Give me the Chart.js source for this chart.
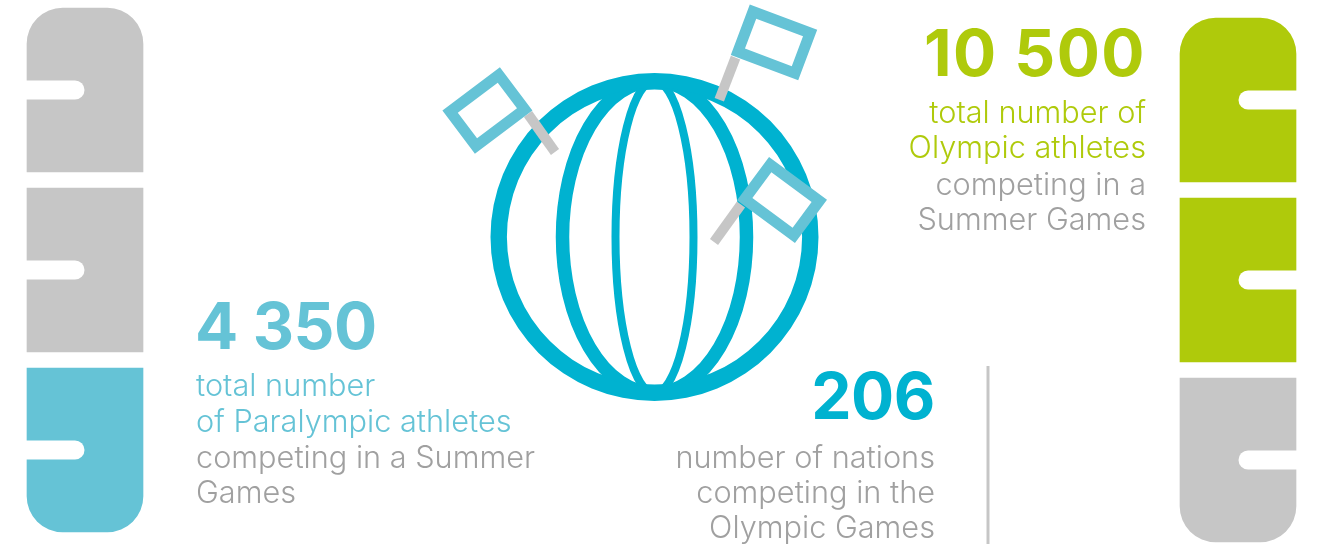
<!DOCTYPE html>
<html>
<head>
<meta charset="utf-8">
<script src="https://cdn.jsdelivr.net/npm/chart.js@4/dist/chart.umd.min.js"></script>
<style>
html, body { margin: 0; padding: 0; background: #fff; }
#page { position: relative; width: 1319px; height: 544px; overflow: hidden; font-family: Inter, sans-serif; }
canvas { position: absolute; }
#paraWrap, #olyWrap, #globeWrap { position: absolute; }
#paraWrap { left: 18.5px; top: 0; width: 132px; height: 540px; }
#olyWrap { left: 1172px; top: 10px; width: 132px; height: 540px; }
#globeWrap { left: 0; top: 0; width: 1319px; height: 544px; }
.big, .txt { position: absolute; white-space: nowrap; }
.big { font-weight: 700; font-size: 64px; line-height: 65px; }
.txt { font-weight: 300; font-size: 30.7px; line-height: 36px; }
.blue { color: #65c3d6; } .cyan { color: #00b2d0; } .green { color: #afca0b; } .grey { color: #a0a0a0; }
</style>
</head>
<body>
<div id="page">
  <div id="globeWrap"><canvas id="globe"></canvas></div>
  <div id="paraWrap"><canvas id="para"></canvas></div>
  <div id="olyWrap"><canvas id="oly"></canvas></div>

  <div class="big green" style="right:173px;top:20px;letter-spacing:1.5px">10 500</div>
  <div class="txt green" style="right:173px;top:94px">total number of</div>
  <div class="txt green" style="right:173px;top:129px">Olympic athletes</div>
  <div class="txt grey" style="right:173px;top:166px">competing in a</div>
  <div class="txt grey" style="right:173px;top:201px">Summer Games</div>

  <div class="big blue" style="left:195px;top:293px;letter-spacing:-0.4px">4 350</div>
  <div class="txt blue" style="left:196px;top:367px">total number</div>
  <div class="txt blue" style="left:196px;top:403px">of Paralympic athletes</div>
  <div class="txt grey" style="left:196px;top:439px">competing in a Summer</div>
  <div class="txt grey" style="left:196px;top:474px">Games</div>

  <div class="big cyan" style="right:384px;top:363px;letter-spacing:-0.4px">206</div>
  <div class="txt grey" style="right:384px;top:439px">number of nations</div>
  <div class="txt grey" style="right:384px;top:474px">competing in the</div>
  <div class="txt grey" style="right:384px;top:509px">Olympic Games</div>
</div>
<script>
// pittogrammi: tre blocchi per colonna, dal basso verso l'alto
const blockLabels = ['total'];
const paralympicBlocks = [1, 1, 1];
const paralympicColors = ['#65c3d6', '#c6c6c6', '#c6c6c6'];
const olympicBlocks = [1, 1, 1];
const olympicColors = ['#c6c6c6', '#afca0b', '#afca0b'];
const nations = [206];

// tacca bianca a meta di ogni blocco
const notchPlugin = {
    id: 'notch',
    afterDatasetsDraw(chart, args, opts) {
        const ctx = chart.ctx;
        chart.data.datasets.forEach((ds, i) => {
            const bar = chart.getDatasetMeta(i).data[0];
            const mid = (bar.y + bar.base) / 2;
            const edge = opts.side === 'left' ? bar.x - bar.width / 2 : bar.x + bar.width / 2;
            ctx.save();
            ctx.strokeStyle = '#fff';
            ctx.lineWidth = 19;
            ctx.lineCap = 'round';
            ctx.beginPath();
            ctx.moveTo(edge, mid);
            ctx.lineTo(bar.x + (opts.side === 'left' ? -10 : 10), mid);
            ctx.stroke();
            ctx.restore();
        });
    }
};

// barre flottanti: lo stack di Chart.js arrotonda solo la cima
function makeColumn(canvasId, blocks, colors, side) {
    let start = 0;
    const datasets = blocks.map((v, i) => {
        const range = [start, start + v];
        start += v;
        const r = i === blocks.length - 1 ? { topLeft: 44, topRight: 44, bottomLeft: 0, bottomRight: 0 }
            : i === 0 ? { topLeft: 0, topRight: 0, bottomLeft: 44, bottomRight: 44 } : 0;
        return {
            label: 'block' + i,
            data: [range],
            backgroundColor: colors[i],
            borderColor: '#fff',
            borderWidth: 8,
            borderSkipped: false,
            borderRadius: r,
            barPercentage: 1,
            categoryPercentage: 1
        };
    });
    new Chart(document.getElementById(canvasId), {
        type: 'bar',
        data: { labels: blockLabels, datasets: datasets },
        plugins: [notchPlugin],
        options: {
            responsive: true,
            maintainAspectRatio: false,
            animation: false,
            events: [],
            layout: { padding: 0 },
            plugins: { legend: { display: false }, tooltip: { enabled: false }, notch: { side: side } },
            scales: {
                x: { stacked: true, display: false },
                y: { display: false, min: 0, max: start }
            }
        }
    });
}

makeColumn('para', paralympicBlocks, paralympicColors, 'left');
makeColumn('oly', olympicBlocks, olympicColors, 'right');

// bandierine: offset dal centro del globo
const flags = [
    { dx: 119.5, dy: -194.6, rot: 20.6, px1: 81, py1: -179.4, px2: 64.8, py2: -137.3 },
    { dx: -167.1, dy: -126.5, rot: -37, px1: -126.5, py1: -123, px2: -99.5, py2: -85 },
    { dx: 127.5, dy: -37, rot: 36.4, px1: 86.5, py1: -32.5, px2: 59.5, py2: 5 }
];

const globePlugin = {
    id: 'globeDetails',
    afterDatasetsDraw(chart) {
        const ctx = chart.ctx;
        const arc = chart.getDatasetMeta(0).data[0];
        const cx = arc.x, cy = arc.y, r = arc.innerRadius + 2;

        // meridiani tagliati sul cerchio
        ctx.save();
        ctx.beginPath();
        ctx.arc(cx, cy, r, 0, Math.PI * 2);
        ctx.clip();
        ctx.strokeStyle = '#00b2d0';
        ctx.lineWidth = 13.5;
        ctx.beginPath();
        ctx.ellipse(cx, cy, 92, 156, 0, 0, Math.PI * 2);
        ctx.stroke();
        ctx.lineWidth = 8;
        ctx.beginPath();
        ctx.ellipse(cx, cy, 39, 156, 0, 0, Math.PI * 2);
        ctx.stroke();
        ctx.restore();

        flags.forEach(f => {
            ctx.save();
            ctx.strokeStyle = '#c6c6c6';
            ctx.lineWidth = 10;
            ctx.beginPath();
            ctx.moveTo(cx + f.px1, cy + f.py1);
            ctx.lineTo(cx + f.px2, cy + f.py2);
            ctx.stroke();
            ctx.translate(cx + f.dx, cy + f.dy);
            ctx.rotate(f.rot * Math.PI / 180);
            ctx.fillStyle = '#fff';
            ctx.strokeStyle = '#65c3d6';
            ctx.lineWidth = 11;
            ctx.beginPath();
            ctx.rect(-30.5, -21.5, 61, 43);
            ctx.fill();
            ctx.stroke();
            ctx.restore();
        });

        // separatore verticale
        ctx.save();
        ctx.strokeStyle = '#c6c6c6';
        ctx.lineWidth = 3;
        ctx.beginPath();
        ctx.moveTo(988, 366);
        ctx.lineTo(988, 544);
        ctx.stroke();
        ctx.restore();
    }
};

new Chart(document.getElementById('globe'), {
    type: 'doughnut',
    data: {
        labels: ['nations'],
        datasets: [{ data: nations, backgroundColor: '#00b2d0', borderWidth: 0 }]
    },
    plugins: [globePlugin],
    options: {
        responsive: true,
        maintainAspectRatio: false,
        animation: false,
        events: [],
        cutout: '90%',
        layout: { padding: { top: 73, bottom: 143, left: 0, right: 10 } },
        plugins: { legend: { display: false }, tooltip: { enabled: false } }
    }
});
</script>
</body>
</html>
